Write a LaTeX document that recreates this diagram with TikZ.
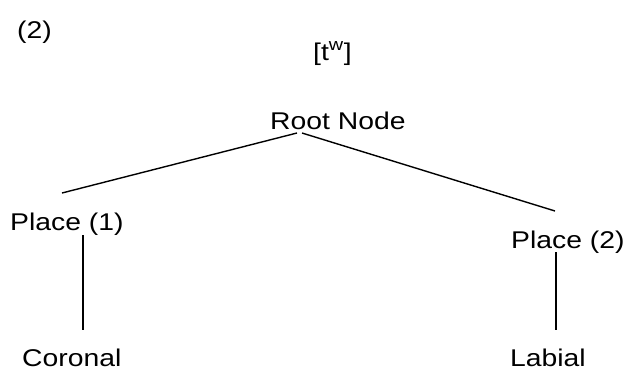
\documentclass[tikz,border=0pt]{standalone}
\usepackage{fontspec}
\setmainfont{Liberation Sans}[FakeStretch=1.17]
\begin{document}
\begin{tikzpicture}[x=1pt,y=-1pt,
  lbl/.style={inner sep=0pt,anchor=base west,font=\fontsize{24.2}{28}\selectfont},
  edge/.style={line width=1.4pt,black}]
\useasboundingbox[fill=white] (0,0) rectangle (626,370);
\node[lbl] (ex) at (17,38) {(2)};
\node[lbl] (seg) at (313,60) {[t\textsuperscript{w}]};
\node[lbl] (root) at (270,129) {Root Node};
\node[lbl] (pl1) at (10,230) {Place (1)};
\node[lbl] (pl2) at (511,248) {Place (2)};
\node[lbl] (cor) at (22,366) {Coronal};
\node[lbl] (lab) at (510,366) {Labial};
\draw[edge] ([xshift=27pt,yshift=-4pt]root.base west) -- ([xshift=52pt,yshift=37pt]pl1.base west);
\draw[edge] ([xshift=32pt,yshift=-4pt]root.base west) -- ([xshift=44pt,yshift=37pt]pl2.base west);
\draw[edge] ([xshift=73pt,yshift=-5pt]pl1.base west) -- ([xshift=61pt,yshift=36pt]cor.base west);
\draw[edge] ([xshift=45pt,yshift=-4pt]pl2.base west) -- ([xshift=46pt,yshift=36pt]lab.base west);
\end{tikzpicture}
\end{document}
